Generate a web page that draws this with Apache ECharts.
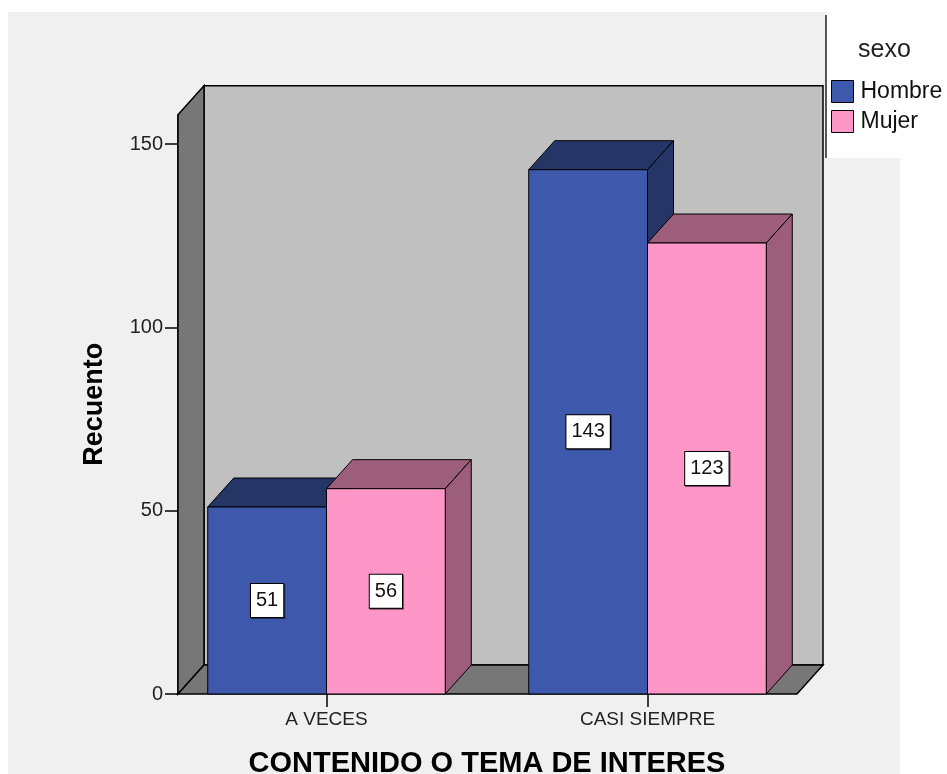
<!DOCTYPE html>
<html>
<head>
<meta charset="utf-8">
<title>Contenido o tema de interes</title>
<script src="https://cdn.jsdelivr.net/npm/echarts@6/dist/echarts.min.js"></script>
<style>
  html, body { margin: 0; padding: 0; background: #fff; }
  #chart { width: 947px; height: 774px; }
</style>
</head>
<body>
<div id="chart"></div>
<script>
const categories = ['A VECES', 'CASI SIEMPRE']
const hombre = [51, 143]
const mujer = [56, 123]
const yTicks = [0, 50, 100, 150]

const FONT = '"Liberation Sans", Arial, sans-serif'
// depth of the fake 3d look
const DX = 26
const DY = 29

// draws one box: front face, top and right side
function barRenderer (side, front, dark) {
  return function (params, api) {
    const idx = api.value(0)
    const val = api.value(1)
    const base = api.coord([idx, 0])
    const top = api.coord([idx, val])
    const w = api.size([1, 0])[0] * 0.37
    const x0 = side < 0 ? base[0] - w : base[0]
    const x1 = x0 + w
    const y0 = base[1]
    const y1 = top[1]
    const line = {stroke: '#000', lineWidth: 1}
    return {
      type: 'group',
      children: [
        {type: 'polygon', shape: {points: [[x0, y1], [x0 + DX, y1 - DY], [x1 + DX, y1 - DY], [x1, y1]]}, style: Object.assign({fill: dark}, line)},
        {type: 'polygon', shape: {points: [[x1, y1], [x1 + DX, y1 - DY], [x1 + DX, y0 - DY], [x1, y0]]}, style: Object.assign({fill: dark}, line)},
        {type: 'rect', shape: {x: x0, y: y1, width: w, height: y0 - y1}, style: Object.assign({fill: front}, line)},
        {
          type: 'text',
          x: (x0 + x1) / 2,
          y: (y0 + y1) / 2,
          style: {
            text: String(val),
            align: 'center',
            verticalAlign: 'middle',
            font: '20px ' + FONT,
            fill: '#111',
            backgroundColor: '#fff',
            borderColor: '#000',
            borderWidth: 1,
            padding: [7, 5, 6, 5],
            shadowColor: 'rgba(0,0,0,0.5)',
            shadowOffsetX: 1,
            shadowOffsetY: 1
          }
        }
      ]
    }
  }
}

// back wall, left wall and floor
function wallRenderer (params) {
  const cs = params.coordSys
  const xl = cs.x + 12
  const xr = cs.x + cs.width - 11
  const yt = cs.y
  const yb = cs.y + cs.height
  const line = {stroke: '#000', lineWidth: 1.5}
  return {
    type: 'group',
    children: [
      {type: 'rect', shape: {x: xl + DX, y: yt - DY, width: xr - xl, height: yb - yt}, style: Object.assign({fill: '#c0c0c0'}, line)},
      {type: 'polygon', shape: {points: [[xl, yt], [xl + DX, yt - DY], [xl + DX, yb - DY], [xl, yb]]}, style: Object.assign({fill: '#777777'}, line)},
      {type: 'polygon', shape: {points: [[xl, yb], [xl + DX, yb - DY], [xr + DX, yb - DY], [xr, yb]]}, style: Object.assign({fill: '#777777'}, line)}
    ]
  }
}

const chart = echarts.init(document.getElementById('chart'))

const option = {
  backgroundColor: '#ffffff',
  animation: false,
  graphic: [
    {type: 'rect', z: -10, shape: {x: 8, y: 12, width: 892, height: 762}, style: {fill: '#f0f0f0'}},
    {type: 'rect', z: -9, shape: {x: 826, y: 12, width: 121, height: 146}, style: {fill: '#ffffff'}},
    {type: 'line', z: 5, shape: {x1: 826, y1: 15, x2: 826, y2: 158}, style: {stroke: '#222', lineWidth: 1.5}},
    {type: 'text', z: 5, x: 858, y: 38, style: {text: 'sexo', font: '25px ' + FONT, fill: '#222'}}
  ],
  legend: {
    orient: 'vertical',
    left: 826,
    top: 75,
    itemWidth: 22,
    itemHeight: 22,
    itemGap: 7,
    icon: 'rect',
    itemStyle: {borderColor: '#000', borderWidth: 1},
    textStyle: {fontFamily: FONT, fontSize: 23, color: '#111', padding: [0, 0, 0, 2]},
    data: ['Hombre', 'Mujer']
  },
  grid: {
    left: 166,
    width: 642,
    top: 114.7,
    bottom: 80,
    outerBoundsMode: 'none'
  },
  xAxis: {
    type: 'category',
    data: categories,
    axisLine: {show: false},
    axisTick: {show: true, alignWithLabel: true, length: 13, lineStyle: {color: '#000', width: 1.5}},
    axisLabel: {fontFamily: FONT, fontSize: 19, color: '#222', margin: 16},
    name: 'CONTENIDO O TEMA DE INTERES',
    nameLocation: 'middle',
    nameGap: 55,
    nameTextStyle: {fontFamily: FONT, fontSize: 29, fontWeight: 'bold', color: '#000'}
  },
  yAxis: {
    type: 'value',
    min: 0,
    max: 158,
    interval: 50,
    offset: -12,
    axisLine: {show: true, lineStyle: {color: '#000', width: 1.5}},
    axisTick: {show: true, length: 13, customValues: yTicks, lineStyle: {color: '#000', width: 1.5}},
    axisLabel: {
      customValues: yTicks,
      fontFamily: FONT,
      fontSize: 20,
      color: '#222',
      margin: 15,
      formatter: v => (v % 50 === 0 ? String(v) : '')
    },
    splitLine: {show: false},
    name: 'Recuento',
    nameLocation: 'middle',
    nameGap: 70,
    nameTextStyle: {fontFamily: FONT, fontSize: 27, fontWeight: 'bold', color: '#000'}
  },
  series: [
    {
      type: 'custom',
      name: 'walls',
      silent: true,
      renderItem: wallRenderer,
      data: [[0, 0]]
    },
    {
      type: 'custom',
      name: 'Hombre',
      itemStyle: {color: '#3e58ab'},
      renderItem: barRenderer(-1, '#3e58ab', '#253566'),
      encode: {x: 0, y: 1},
      data: hombre.map((v, i) => [i, v])
    },
    {
      type: 'custom',
      name: 'Mujer',
      itemStyle: {color: '#ff96c8'},
      renderItem: barRenderer(1, '#ff96c8', '#9d5e7c'),
      encode: {x: 0, y: 1},
      data: mujer.map((v, i) => [i, v])
    }
  ]
}

chart.setOption(option)
window.addEventListener('resize', () => chart.resize())
</script>
</body>
</html>
